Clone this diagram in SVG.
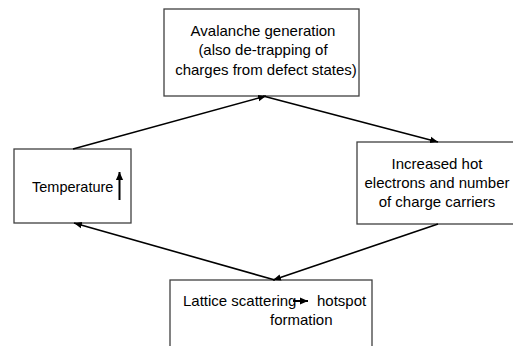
<svg xmlns="http://www.w3.org/2000/svg" width="513" height="346" viewBox="0 0 513 346">
<style>
.box{fill:#fff;stroke:#404040;stroke-width:1.3}
.t{font-family:"Liberation Sans",Arial,sans-serif;font-size:15px;fill:#000}
.c{stroke:#000;stroke-width:1.6;fill:none}
</style>
<defs>
<marker id="ah" viewBox="0 0 10 10" refX="10" refY="5" markerWidth="8" markerHeight="8" markerUnits="userSpaceOnUse" orient="auto">
<path d="M0,1 L10,5 L0,9 z" fill="#000"/>
</marker>
<marker id="ah2" viewBox="0 0 10 10" refX="10" refY="5" markerWidth="8" markerHeight="8" markerUnits="userSpaceOnUse" orient="auto">
<path d="M0,0.5 L10,5 L0,9.5 z" fill="#000"/>
</marker>
</defs>
<rect width="513" height="346" fill="#fff"/>
<g id="n-avalanche">
<rect class="box" x="164" y="9" width="195" height="87"/>
<text class="t" text-anchor="middle"><tspan x="263" y="35.5">Avalanche generation</tspan><tspan x="263" y="55">(also de-trapping of</tspan><tspan x="266" y="74.5">charges from defect states)</tspan></text>
</g>
<g id="n-temperature">
<rect class="box" x="14" y="149" width="117" height="74"/>
<text class="t" x="32" y="192" style="font-size:14.5px">Temperature</text>
<line x1="119.5" y1="200" x2="119.5" y2="172" stroke="#000" stroke-width="2" marker-end="url(#ah2)"/>
</g>
<g id="n-hot">
<rect class="box" x="357" y="142" width="160" height="82"/>
<text class="t" text-anchor="middle"><tspan x="437" y="169">Increased hot</tspan><tspan x="437" y="188">electrons and number</tspan><tspan x="437" y="207">of charge carriers</tspan></text>
</g>
<g id="n-lattice">
<rect class="box" x="170" y="280" width="202" height="80"/>
<text class="t"><tspan x="183" y="306">Lattice scattering</tspan><tspan x="317" y="306">hotspot</tspan><tspan x="270" y="325">formation</tspan></text>
<line x1="293" y1="301" x2="308" y2="301" stroke="#000" stroke-width="2" marker-end="url(#ah2)"/>
</g>
<g id="connectors">
<line class="c" x1="73" y1="149" x2="266" y2="96" marker-end="url(#ah)"/>
<line class="c" x1="263" y1="96" x2="438" y2="142" marker-end="url(#ah)"/>
<line class="c" x1="438" y1="224" x2="273" y2="280" marker-end="url(#ah)"/>
<line class="c" x1="275" y1="280" x2="74" y2="223" marker-end="url(#ah)"/>
</g>
</svg>
